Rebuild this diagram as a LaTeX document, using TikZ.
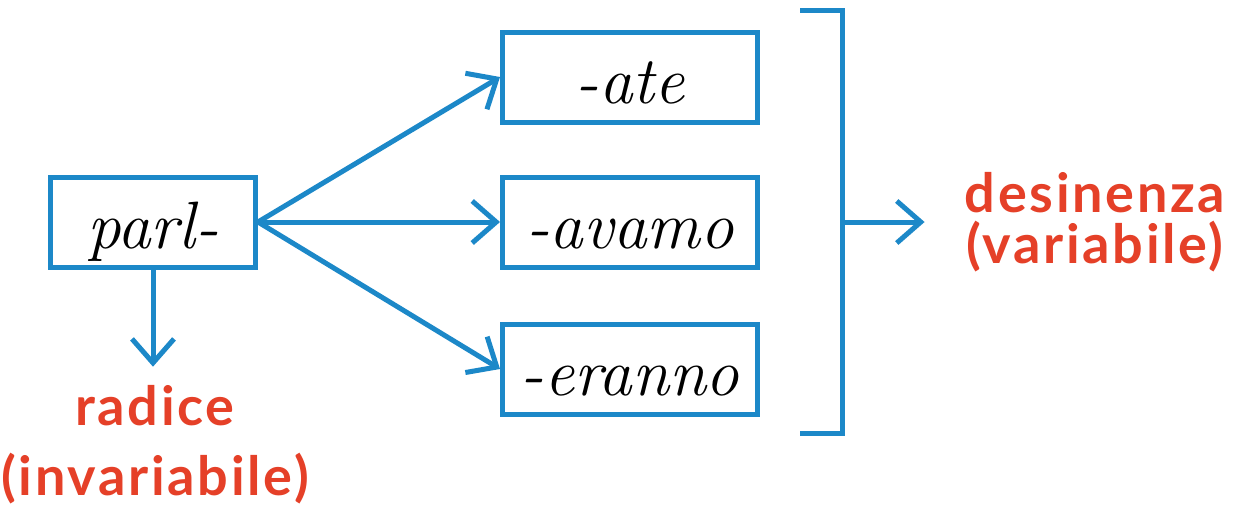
\documentclass[tikz,border=0pt]{standalone}
\usepackage{fontspec}
\usetikzlibrary{arrows.meta, positioning}
\newfontfamily\labelfont{Lato}[LetterSpace=5]
\definecolor{lineblue}{RGB}{28,136,200}
\definecolor{labelred}{RGB}{229,64,40}

\begin{document}
\begin{tikzpicture}[
    x=1pt, y=-1pt,
    morph/.style={rectangle, draw=lineblue, line width=5pt, fill=white,
                  inner xsep=0pt, inner ysep=0pt, text height=71pt, text depth=19pt,
                  minimum width=255pt, font=\fontsize{67}{70}\selectfont\itshape},
    stem/.style={morph, minimum width=205pt},
    redlabel/.style={text=labelred, inner sep=0pt, align=center, anchor=base},
    relation/.style={-{Straight Barb[length=24pt, width=42pt]}, draw=lineblue, line width=5pt}
]
\useasboundingbox (0,0) rectangle (1236,509);

% Define morphs
\node[stem] (parl) at (153,222) {parl-};
\node[morph, right=242pt of parl] (avamo) {-avamo};
\node[morph, above=50pt of avamo] (ate) {-ate};
\node[morph, below=52pt of avamo] (eranno) {-eranno};

% Labels (base = last line)
\node[redlabel, font=\labelfont\bfseries\fontsize{54}{70}\selectfont] (radice) at (155,495) {radice\\(invariabile)};
\node[redlabel, font=\labelfont\bfseries\fontsize{54}{51}\selectfont] (desinenza) at (1095,263) {desinenza\\(variabile)};

% Bracket
\coordinate (bracket top) at (800,10);
\coordinate (bracket bottom) at (800,433);
\coordinate (bracket mid) at (842,222);
\draw[lineblue, line width=5pt] (bracket top) -| (bracket mid) |- (bracket bottom);

% Relations
\draw[relation] (parl.east) -- (ate.west);
\draw[relation] (parl.east) -- (avamo.west);
\draw[relation] (parl.east) -- (eranno.west);
\draw[relation, shorten >=18pt] (parl.south) -- (parl.south |- radice.north);
\draw[relation, shorten >=40pt] (bracket mid) -- (bracket mid -| desinenza.west);

\end{tikzpicture}
\end{document}
